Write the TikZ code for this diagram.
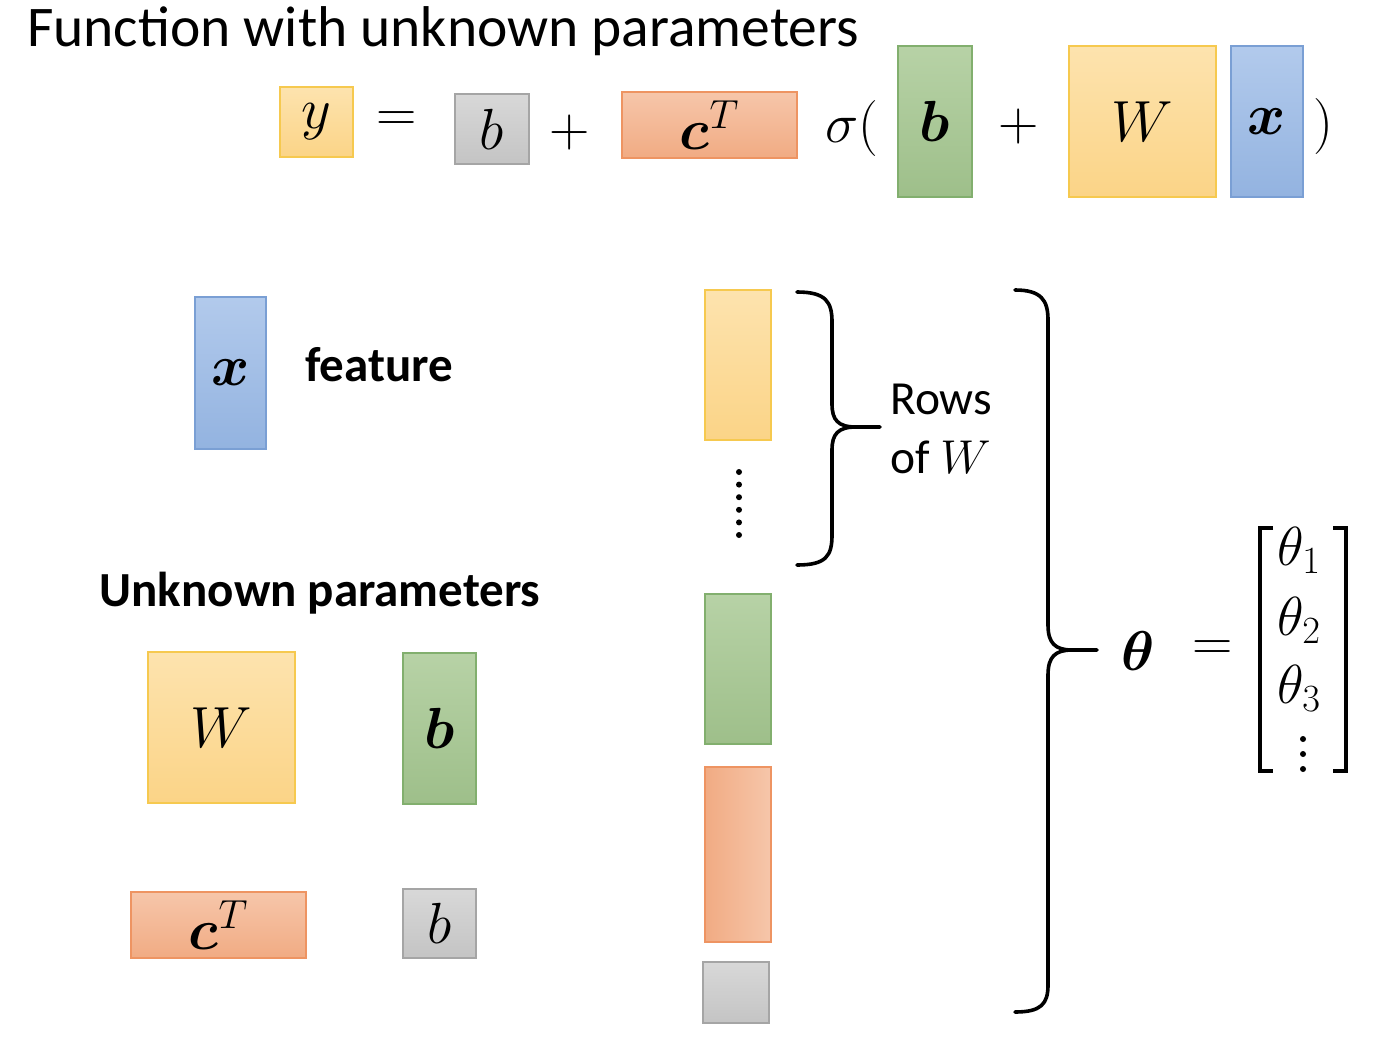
\RequirePackage{fix-cm}
\documentclass[tikz,border=0pt]{standalone}
\usepackage{amsmath}
\usepackage{fontspec}
\setmainfont{Carlito}
\definecolor{yelT}{HTML}{FDE3AE}
\definecolor{yelD}{HTML}{FBD487}
\definecolor{yelB}{HTML}{F6C94F}
\definecolor{grayT}{HTML}{D8D8D8}
\definecolor{grayD}{HTML}{C4C4C4}
\definecolor{grayB}{HTML}{A5A5A5}
\definecolor{orT}{HTML}{F6C6AA}
\definecolor{orD}{HTML}{F1AB83}
\definecolor{orB}{HTML}{EE9462}
\definecolor{grT}{HTML}{B7D2A6}
\definecolor{grD}{HTML}{9EBF8A}
\definecolor{grB}{HTML}{82AF6E}
\definecolor{blT}{HTML}{B2CAEC}
\definecolor{blD}{HTML}{93B3E0}
\definecolor{blB}{HTML}{7A9FD4}
\tikzset{
  box/.style={inner sep=0pt, draw, line width=1.3pt, font=\fontsize{58}{62}\selectfont},
  yelbox/.style={box, draw=yelB, top color=yelT, bottom color=yelD},
  graybox/.style={box, draw=grayB, top color=grayT, bottom color=grayD},
  orbox/.style={box, draw=orB, top color=orT, bottom color=orD},
  grbox/.style={box, draw=grB, top color=grT, bottom color=grD},
  blbox/.style={box, draw=blB, top color=blT, bottom color=blD},
  mtxt/.style={inner sep=0pt, font=\fontsize{56}{60}\selectfont},
  lbl/.style={inner sep=0pt, font=\fontsize{49}{54}\selectfont\bfseries},
  rowtxt/.style={inner sep=0pt, anchor=west, font=\fontsize{47.5}{52}\selectfont},
  brace/.style={line width=3.6pt, line cap=round, line join=round},
  ent/.style={inner sep=0pt, anchor=base west, font=\fontsize{55}{58}\selectfont}
}
\begin{document}
\begin{tikzpicture}[x=1pt,y=-1pt]
\useasboundingbox (0,0) rectangle (1394,1044);
\fill[white] (0,0) rectangle (1394,1044);
% title
\node[inner sep=0pt, anchor=base west, font=\fontsize{57.5}{62}\selectfont] (title) at (27,46) {Function with unknown parameters};
% top equation
\node[yelbox, minimum width=73pt, minimum height=70pt] (yTop) at (316.5,122) {$y$};
\node[mtxt] (eqTop) at (397,122) {$=$};
\node[graybox, minimum width=74pt, minimum height=70pt] (bTop) at (492,129) {$b$};
\node[mtxt] (plusA) at (570,132) {$+$};
\node[orbox, minimum width=175pt, minimum height=66pt] (cTop) at (709.5,125) {$\boldsymbol{c}^T$};
\node[mtxt] (sig) at (852,128) {$\sigma($};
\node[grbox, minimum width=74pt, minimum height=151pt] (bgTop) at (935,121.5) {$\boldsymbol{b}$};
\node[mtxt] (plusB) at (1019,127) {$+$};
\node[yelbox, minimum width=147pt, minimum height=151pt] (WTop) at (1142.5,121.5) {$W$};
\node[blbox, minimum width=72pt, minimum height=151pt] (xTop) at (1267,121.5) {$\boldsymbol{x}$};
\node[mtxt] (rpar) at (1323,127) {$)$};
% feature
\node[blbox, minimum width=71pt, minimum height=152pt] (xMid) at (230.5,373) {$\boldsymbol{x}$};
\node[lbl, anchor=west] (feat) at (305,365) {feature};
% unknown parameters
\node[lbl] (unk) at (320,593) {Unknown parameters};
\node[yelbox, minimum width=147pt, minimum height=151pt] (WBot) at (221.5,727.5) {$W$};
\node[grbox, minimum width=73pt, minimum height=151pt] (bgBot) at (439.5,728.5) {$\boldsymbol{b}$};
\node[orbox, minimum width=175pt, minimum height=66pt] (cBot) at (218.5,925) {$\boldsymbol{c}^T$};
\node[graybox, minimum width=73pt, minimum height=69pt] (bBot) at (439.5,923.5) {$b$};
% column
\node[yelbox, minimum width=66pt, minimum height=150pt] (colW) at (738,365) {};
\foreach \yy in {472,484.6,497.2,509.8,522.4,535} \fill (739,\yy) circle (3pt);
\node[grbox, minimum width=66pt, minimum height=150pt] (colB) at (738,669) {};
\node[box, draw=orB, left color=orD, right color=orT, minimum width=66pt, minimum height=175pt] (colC) at (738,854.5) {};
\node[graybox, minimum width=66pt, minimum height=61pt] (colb) at (736,992.5) {};
% small brace
\draw[brace] (797,292) .. controls (826,292) and (832,302) .. (832,322) -- (832,404)
  .. controls (832,420) and (838,427) .. (856,427) -- (880,427);
\draw[brace] (856,427) .. controls (838,427) and (832,434) .. (832,450) -- (832,535)
  .. controls (832,556) and (826,565) .. (797,565);
\node[rowtxt] (rows1) at (890,399) {Rows};
\node[rowtxt] (rows2) at (890,457) {of $W$};
% big brace
\draw[brace] (1015,290) .. controls (1041,290) and (1048,300) .. (1048,320) -- (1048,625)
  .. controls (1048,643) and (1055,650) .. (1072,650) -- (1097,650);
\draw[brace] (1072,650) .. controls (1055,650) and (1048,657) .. (1048,675) -- (1048,985)
  .. controls (1048,1004) and (1041,1012) .. (1015,1012);
% theta
\node[mtxt] (th) at (1138,651) {$\boldsymbol{\theta}$};
\node[mtxt] (eqTh) at (1213,651) {$=$};
\draw[line width=3.6pt] (1273,528) -- (1260,528) -- (1260,771) -- (1273,771);
\draw[line width=3.6pt] (1333,528) -- (1346,528) -- (1346,771) -- (1333,771);
\node[ent] (t1) at (1277,565) {$\theta_1$};
\node[ent] (t2) at (1277,635) {$\theta_2$};
\node[ent] (t3) at (1277,703) {$\theta_3$};
\foreach \yy in {739,754,769} \fill (1303,\yy) circle (3pt);
\end{tikzpicture}
\end{document}
